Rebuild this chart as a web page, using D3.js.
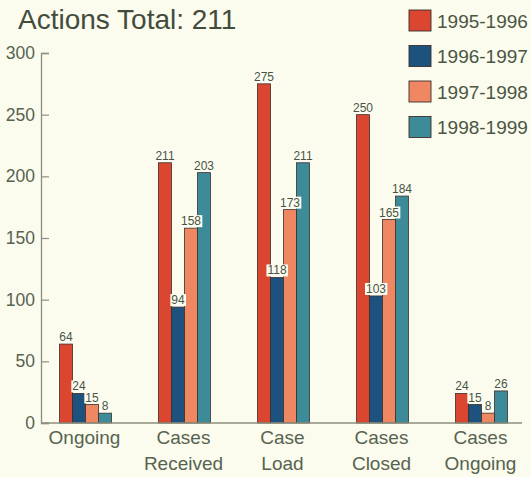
<!DOCTYPE html>
<html>
<head>
<meta charset="utf-8">
<script src="https://cdn.jsdelivr.net/npm/d3@7"></script>
<style>
  html, body { margin: 0; padding: 0; background: #fbfbee; }
  svg { display: block; font-family: "Liberation Sans", Arial, Helvetica, sans-serif; }
</style>
</head>
<body>
<svg id="chart" width="531" height="477"></svg>
<script>
// Case categories (label lines split on the space)
const categories = ["Ongoing", "Cases Received", "Case Load", "Cases Closed", "Cases Ongoing"];

// Fiscal years shown in the legend
const seriesNames = ["1995-1996", "1996-1997", "1997-1998", "1998-1999"];

// Counts per category for each fiscal year
const fy1995 = [64, 211, 275, 250, 24];
const fy1996 = [24, 94, 118, 103, 15];
const fy1997 = [15, 158, 173, 165, 8];
const fy1998 = [8, 203, 211, 184, 26];

const yTickValues = [0, 50, 100, 150, 200, 250, 300];

const titleText = "Actions Total: 211";

const seriesValues = [fy1995, fy1996, fy1997, fy1998];
const colors = ["#da4630", "#1e527e", "#ef8763", "#3d8b98"];

const textColor = "#566350";
const bg = "#fbfbee";

const svg = d3.select("#chart");
svg.append("rect").attr("width", 531).attr("height", 477).attr("fill", bg);

// Scales
const y = d3.scaleLinear().domain([0, 300]).range([423, 53]);
const x0 = d3.scaleBand()
  .domain(categories)
  .range([36, 531])
  .paddingInner(0.475)
  .paddingOuter(0.2375);
const x1 = d3.scaleBand()
  .domain(seriesNames)
  .range([0, x0.bandwidth()]);
const color = d3.scaleOrdinal().domain(seriesNames).range(colors);

// Title
svg.append("text")
  .attr("x", 18)
  .attr("y", 29)
  .attr("font-size", 28)
  .attr("fill", "#424c3d")
  .text(titleText);

// Y axis: ticks point inward, labels on the left
const yAxis = d3.axisLeft(y)
  .tickValues(yTickValues)
  .tickSizeInner(-8)
  .tickSizeOuter(-8)
  .tickPadding(6)
  .tickFormat(d3.format("d"));

const gy = svg.append("g")
  .attr("transform", "translate(41,0)")
  .call(yAxis);
gy.select(".domain").attr("stroke", "#8d8f7e").attr("stroke-width", 1.3);
gy.selectAll(".tick line").attr("stroke", "#8d8f7e").attr("stroke-width", 1.2);
gy.selectAll(".tick text")
  .attr("fill", textColor)
  .attr("font-size", 17.5)
  .attr("font-family", "'Liberation Sans', Arial, sans-serif");

// Flatten values into bar records
const bars = [];
categories.forEach((c, ci) => {
  seriesNames.forEach((s, si) => {
    bars.push({ category: c, series: s, value: seriesValues[si][ci] });
  });
});

// Bars
svg.append("g")
  .selectAll("rect")
  .data(bars)
  .join("rect")
  .attr("x", d => x0(d.category) + x1(d.series))
  .attr("y", d => y(d.value))
  .attr("width", x1.bandwidth())
  .attr("height", d => y(0) - y(d.value))
  .attr("fill", d => color(d.series))
  .attr("stroke", "#3b2f2a")
  .attr("stroke-width", 0.8);

// Baseline
svg.append("line")
  .attr("x1", 41)
  .attr("x2", 522)
  .attr("y1", y(0))
  .attr("y2", y(0))
  .attr("stroke", "#8d8f7e")
  .attr("stroke-width", 1.3);

// Value labels, each on a small backing box
const labels = svg.append("g")
  .selectAll("g")
  .data(bars)
  .join("g")
  .attr("transform", d => `translate(${x0(d.category) + x1(d.series) + x1.bandwidth() / 2},${y(d.value) - 3})`);

labels.append("rect").attr("class", "lblbg");
labels.append("text")
  .attr("text-anchor", "middle")
  .attr("font-size", 12)
  .attr("fill", "#48543f")
  .text(d => d.value);

labels.each(function () {
  const g = d3.select(this);
  const bb = g.select("text").node().getBBox();
  g.select("rect.lblbg")
    .attr("x", bb.x - 1)
    .attr("y", -10)
    .attr("width", bb.width + 2)
    .attr("height", 12)
    .attr("fill", "#fcfcf2");
});

// Category labels
const catLabels = svg.append("g")
  .selectAll("text")
  .data(categories)
  .join("text")
  .attr("text-anchor", "middle")
  .attr("font-size", 19)
  .attr("fill", textColor)
  .attr("x", d => x0(d) + x0.bandwidth() / 2 - 1)
  .attr("y", 444);

catLabels.selectAll("tspan")
  .data(d => d.split(" "))
  .join("tspan")
  .attr("x", function () { return d3.select(this.parentNode).attr("x"); })
  .attr("dy", (d, i) => i === 0 ? 0 : 26)
  .text(d => d);

// Legend
const legend = svg.append("g")
  .selectAll("g")
  .data(seriesNames)
  .join("g")
  .attr("transform", (d, i) => `translate(409,${10 + i * 35.5})`);

legend.append("rect")
  .attr("width", 22)
  .attr("height", 21)
  .attr("fill", d => color(d))
  .attr("stroke", "#3b2f2a")
  .attr("stroke-width", 0.9);

legend.append("text")
  .attr("x", 28)
  .attr("y", 17.5)
  .attr("font-size", 19)
  .attr("fill", "#4a5644")
  .text(d => d);
</script>
</body>
</html>
